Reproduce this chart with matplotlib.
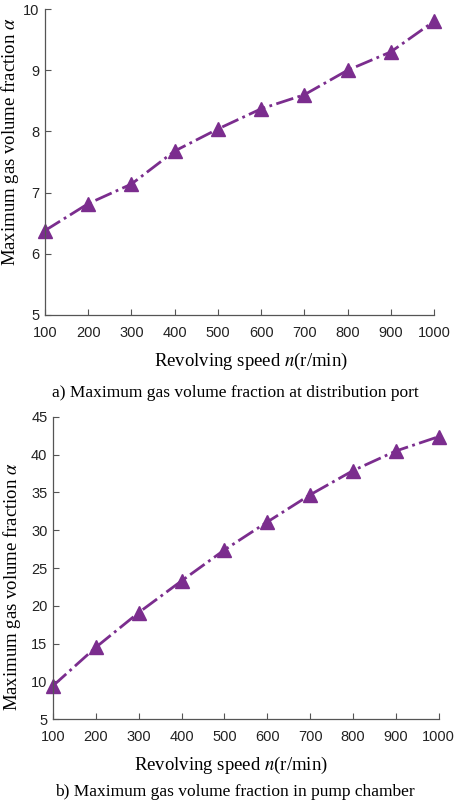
import numpy as np
import matplotlib
matplotlib.use('Agg')
import matplotlib.pyplot as plt

plt.rcParams['mathtext.fontset'] = 'stix'

speed = [100, 200, 300, 400, 500, 600, 700, 800, 900, 1000]
alpha_port = [6.38, 6.82, 7.14, 7.68, 8.04, 8.37, 8.60, 9.00, 9.30, 9.80]
alpha_chamber = [9.4, 14.5, 19.1, 23.3, 27.4, 31.1, 34.7, 37.9, 40.5, 42.4]

purple = '#7b2d8e'
serif = 'Liberation Serif'
sans = 'Liberation Sans'

fig = plt.figure(figsize=(4.59, 8.05), dpi=100)
ax1 = fig.add_axes([0.098, 0.6087, 0.8475, 0.380])
ax2 = fig.add_axes([0.1155, 0.1068, 0.8405, 0.3752])


def style(ax, ylim, yticks, ylab_xy, xlab_x):
    ax.set_xlim(100, 1000)
    ax.set_xticks(speed)
    ax.set_ylim(*ylim)
    ax.set_yticks(yticks)
    for s in ['top', 'right']:
        ax.spines[s].set_visible(False)
    for s in ['left', 'bottom']:
        ax.spines[s].set_color('#555555')
        ax.spines[s].set_linewidth(0.9)
    ax.tick_params(direction='in', length=4, width=0.8, color='#555555',
                   labelsize=10.5, labelcolor='#222222', pad=8)
    ax.tick_params(axis='y', pad=4)
    for lab in ax.get_xticklabels() + ax.get_yticklabels():
        lab.set_fontfamily(sans)
    ax.set_xlabel(r'Revolving speed $n$(r/min)', family=serif, fontsize=13.5, labelpad=8)
    ax.set_ylabel(r'Maximum gas volume fraction $\alpha$', family=serif, fontsize=13.5)
    ax.yaxis.set_label_coords(*ylab_xy)
    ax.xaxis.label.set_x(xlab_x)


ax1.plot(speed, alpha_port, color=purple, lw=2, ls='-.', marker='^', ms=10, clip_on=False)
style(ax1, (5, 10), [5, 6, 7, 8, 9, 10], (-0.062, 0.567), 0.53)

ax2.plot(speed, alpha_chamber, color=purple, lw=2, ls='-.', marker='^', ms=10, clip_on=False)
style(ax2, (5, 45), [5, 10, 15, 20, 25, 30, 35, 40, 45], (-0.078, 0.437), 0.46)

fig.text(0.512, 1 - 393 / 805, 'a) Maximum gas volume fraction at distribution port',
         family=serif, fontsize=12.5, ha='center', va='center')
fig.text(0.512, 1 - 792 / 805, 'b) Maximum gas volume fraction in pump chamber',
         family=serif, fontsize=12.5, ha='center', va='center')

fig.savefig('out.png', dpi=100)
